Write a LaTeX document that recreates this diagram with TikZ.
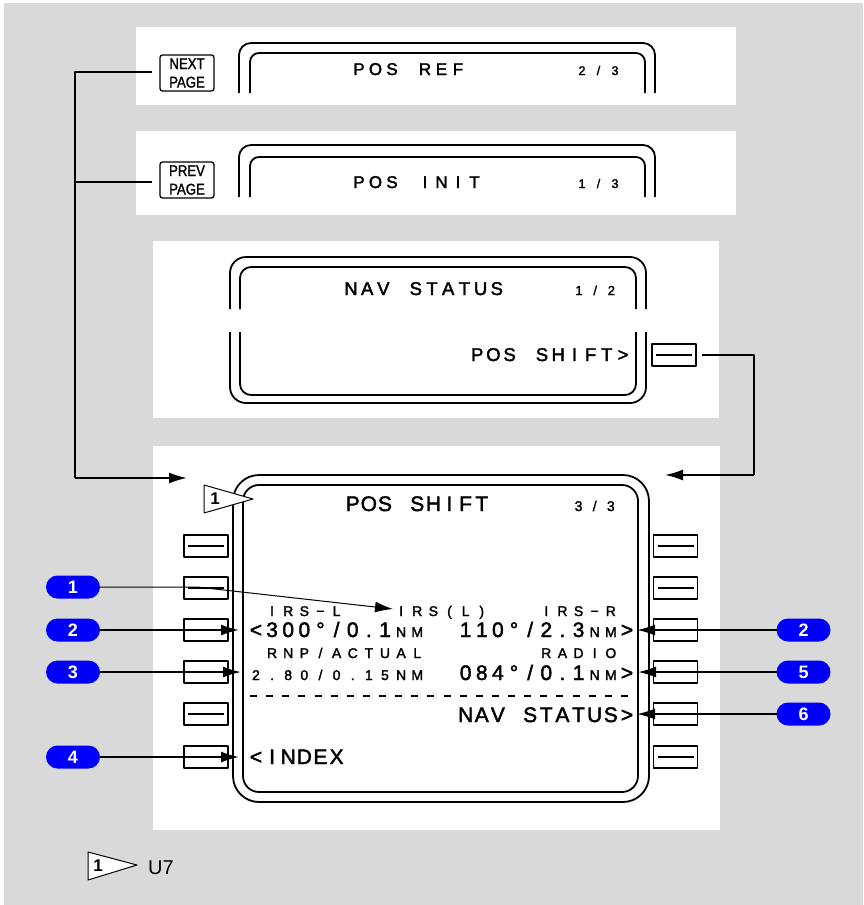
\documentclass[tikz,border=0pt]{standalone}
\usepackage{fontspec}
\setmainfont{Liberation Sans}
\newfontfamily\fmcfont[FakeBold=2]{Liberation Sans}
\newfontfamily\keyfont[FakeStretch=0.85,FakeBold=1.5]{Liberation Sans}
\usetikzlibrary{arrows.meta}
\definecolor{bgrey}{RGB}{217,217,217}
\definecolor{badgeblue}{RGB}{0,0,250}
\makeatletter
\newcommand\fmccells[2]{\@tfor\fmc@tok:=#2\do{\makebox[#1][c]{\fmc@tok}}}
\makeatother
\newcommand\cB[1]{{\fmcfont\fontsize{\fbsz}{\fbsz}\selectfont\fmccells{\fp}{#1}}}
\newcommand\cS[1]{{\fmcfont\fontsize{\fssz}{\fssz}\selectfont\fmccells{\fp}{#1}}}
\begin{document}
\begin{tikzpicture}[x=1pt,y=-1pt,line join=round,
  scr/.style={line width=1.8pt},
  fkey/.style={draw,line width=1.6pt,minimum width=44pt,minimum height=22pt,inner sep=0pt,outer sep=0pt},
  pagekey/.style={draw,line width=1.3pt,rounded corners=2.5pt,minimum width=54pt,minimum height=36pt,inner sep=0pt,outer sep=0pt,align=center,font=\keyfont\fontsize{15.5}{18.5}\selectfont},
  badge/.style={fill=badgeblue,rounded corners=11.5pt,minimum width=54pt,minimum height=23pt,inner sep=0pt,outer sep=0pt,text=white,font=\fontsize{18}{18}\selectfont\bfseries},
  conn/.style={line width=1.8pt},
  callout/.style={line width=1.8pt,-{Latex[length=18pt,width=11pt]}},
  thincallout/.style={line width=1pt,-{Latex[length=18pt,width=11pt]}},
  ftxt/.style={anchor=base west,inner sep=0pt,outer sep=0pt},
  flag/.style={fill=white,draw,line width=1pt},
  flagnum/.style={inner sep=0pt,font=\fontsize{17}{17}\selectfont\bfseries},
]
\useasboundingbox (0,0) rectangle (863,905);
\fill[white] (0,0) rectangle (863,905);
\fill[bgrey] (4,3) rectangle (863,905);
% white panels
\fill[white] (136,27) rectangle (736,105);
\fill[white] (136,131) rectangle (736,215);
\fill[white] (153,241) rectangle (719,418);
\fill[white] (153,446) rectangle (720,830);

% ---------- screen 1 and 2 ----------
\draw[scr,rounded corners=12pt] (239,93) -- (239,43) -- (655,43) -- (655,93);
\draw[scr,rounded corners=9pt] (250,93) -- (250,53) -- (645,53) -- (645,93);
\draw[scr,rounded corners=12pt] (239,197) -- (239,145) -- (655,145) -- (655,197);
\draw[scr,rounded corners=9pt] (250,197) -- (250,157) -- (645,157) -- (645,197);
\def\fp{16.5pt}\def\fbsz{17}\def\fssz{12.5}
\node[ftxt] (posref) at (350.75,75) {\cB{POS~REF}};
\node[ftxt] (posrefpg) at (573.75,75) {\cS{2/3}};
\node[ftxt] (posinit) at (350.75,188) {\cB{POS~INIT}};
\node[ftxt] (posinitpg) at (573.75,188) {\cS{1/3}};
\node[pagekey] (nextkey) at (187,73) {NEXT\\PAGE};
\node[pagekey] (prevkey) at (187,180) {PREV\\PAGE};

% ---------- screen 3 ----------
\draw[scr,rounded corners=16pt] (230,309) -- (230,257) -- (646,257) -- (646,309);
\draw[scr,rounded corners=16pt] (230,332) -- (230,403) -- (646,403) -- (646,332);
\draw[scr,rounded corners=11pt] (240,309) -- (240,267) -- (636,267) -- (636,309);
\draw[scr,rounded corners=11pt] (240,332) -- (240,395) -- (636,395) -- (636,332);
\def\fp{16.2pt}\def\fbsz{18.5}\def\fssz{13}
\node[ftxt] (navtitle) at (342.9,295) {\cB{NAV~STATUS}};
\node[ftxt] (navpg) at (570.9,295) {\cS{1/2}};
\node[ftxt] (navpos) at (469.1,361) {\cB{POS~SHIFT>}};
\node[fkey] (navkey) at (674,355) {};
\draw[line width=1.6pt] ([xshift=4pt]navkey.west) -- ([xshift=-4pt]navkey.east);

% ---------- screen 4 ----------
\draw[scr,rounded corners=26pt] (233,475) rectangle (649,802);
\draw[scr,rounded corners=16pt] (243,485) rectangle (638,792);
\def\fp{16.13pt}\def\fbsz{21}\def\fssz{14}
\def\cx#1{247.9+16.13*#1}
\node[ftxt] (shtitle) at ({\cx{6}},511) {\cB{POS~SHIFT}};
\node[ftxt] (shpg) at ({\cx{20}},511) {\cS{3/3}};
\node[ftxt] (irsl) at ({\cx{1}},616) {\cS{IRS−L}};
\node[ftxt] (irsparen) at ({\cx{9}},616) {\cS{IRS(L)}};
\node[ftxt] (irsr) at ({\cx{18}},616) {\cS{IRS−R}};
\node[ftxt] (rowla) at ({\cx{0}},637) {\cB{<300°/0.1}\cS{NM}};
\node[ftxt] (rowra) at ({\cx{13}},637) {\cB{110°/2.3}\cS{NM}\cB{>}};
\node[ftxt] (rnp) at ({\cx{1}},658) {\cS{RNP/ACTUAL}};
\node[ftxt] (radio) at ({\cx{18}},658) {\cS{RADIO}};
\node[ftxt] (rowlb) at ({\cx{0}},680) {\cS{2.80/0.15NM}};
\node[ftxt] (rowrb) at ({\cx{13}},680) {\cB{084°/0.1}\cS{NM}\cB{>}};
\draw[line width=1.5pt,dash pattern=on 7pt off 9.13pt] (250,696) -- (632,696);
\node[ftxt] (rowrc) at ({\cx{13}},722) {\cB{NAV~STATUS>}};
\node[ftxt] (rowld) at ({\cx{0}},764) {\cB{<INDEX}};

% line select keys
\foreach \i/\yy in {1/546,2/588,3/630,4/672,5/714,6/757}{
  \node[fkey] (lk\i) at (206,\yy) {};
  \node[fkey] (rk\i) at (675.5,\yy) {};
}
\foreach \k in {lk1,lk2,lk5,rk1,rk2,rk6}{
  \draw[line width=1.6pt] ([xshift=4pt]\k.west) -- ([xshift=-4pt]\k.east);
}

% flag marker
\draw[flag] (204,485) -- (253,499) -- (204,513) -- cycle;
\node[flagnum] (flagone) at (215,499) {1};

% ---------- connectors ----------
\coordinate (arrL) at (187,478);
\coordinate (arrR) at (665,475);
\draw[conn] ([xshift=-8pt,yshift=1pt]nextkey.west) -| (75,478);
\draw[conn,-{Latex[length=18pt,width=11pt]}] (75,478) -- (arrL);
\draw[conn] ([xshift=-8pt,yshift=-2pt]prevkey.west) -- (75,182);
\draw[conn] ([xshift=6pt]navkey.east) -| (754,475);
\draw[conn,-{Latex[length=18pt,width=11pt]}] (754,475) -- (arrR);

% ---------- callouts ----------
\node[badge] (b1) at (73,587) {1};
\node[badge] (b2l) at (73,630) {2};
\node[badge] (b3) at (73,672) {3};
\node[badge] (b4) at (73,757) {4};
\node[badge] (b2r) at (803.5,630) {2};
\node[badge] (b5) at (803.5,672) {5};
\node[badge] (b6) at (803.5,714) {6};
\coordinate (t1) at (393,609);
\coordinate (t2l) at (239,630);
\coordinate (t3) at (241,672);
\coordinate (t4) at (239,757);
\coordinate (t2r) at (637,630);
\coordinate (t5) at (638,672);
\coordinate (t6) at (637,714);
\draw[thincallout] (b1.east) -- (197,587) -- (t1);
\draw[callout] (b2l.east) -- (t2l);
\draw[callout] (b3.east) -- (t3);
\draw[callout] (b4.east) -- (t4);
\draw[callout] (b2r.west) -- (t2r);
\draw[callout] (b5.west) -- (t5);
\draw[callout] (b6.west) -- (t6);

% ---------- legend ----------
\draw[flag] (88,852) -- (137,865) -- (88,880) -- cycle;
\node[flagnum] (legone) at (98,866) {1};
\node[anchor=base west,inner sep=0pt,font=\fontsize{20}{20}\selectfont] (u7) at (148,874) {U7};
\end{tikzpicture}
\end{document}
